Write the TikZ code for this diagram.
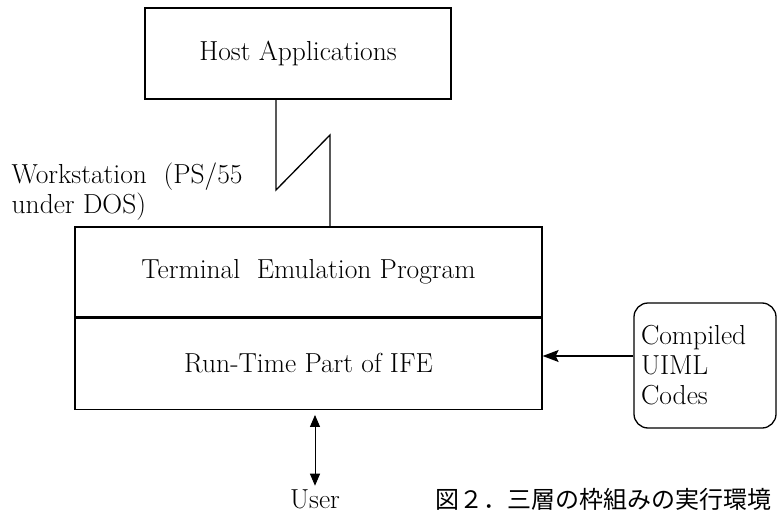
\documentclass[tikz,border=0pt]{standalone}
\usepackage{fontspec}
\newfontfamily\cjk{Noto Sans CJK JP}
\usetikzlibrary{arrows.meta,positioning}

\begin{document}
\begin{tikzpicture}[x=1pt,y=-1pt,line width=1.3pt,
  box/.style={draw,inner sep=0pt,font=\fontsize{27.5}{30}\selectfont},
  label/.style={inner sep=0pt,font=\fontsize{27.5}{30}\selectfont},
  tip/.style={-{Stealth[length=16pt,width=12pt,inset=3pt]}}]

  \useasboundingbox (0,0) rectangle (777,514);

  \def\boxw{467}

  % host side
  \node[box,minimum width=306pt,minimum height=91pt] (host) at (298,53.5) {\raisebox{5pt}{Host Applications}};

  % workstation side, two layers
  \node[box,minimum width=\boxw pt,minimum height=90pt] (term) at (308.5,272) {\raisebox{5pt}{Terminal\ \ Emulation Program}};
  \node[box,minimum width=\boxw pt,minimum height=91pt,below=0pt of term] (run) {\raisebox{2pt}{Run-Time Part of IFE}};

  \node[box,rounded corners=14pt,minimum width=142pt,minimum height=125pt,
        text width=128pt,align=left] (codes) at (705,365.5) {Compiled\\UIML\\Codes};

  % line from host to workstation
  \coordinate (zl) at (276,190);
  \coordinate (zr) at (330,135);
  \draw (host.south -| zl) -- (zl) -- (zr) -- (zr |- term.north);

  \node[label,anchor=west,align=left] (ws) at (11,192) {Workstation\ \ (PS/55\\under DOS)};

  \draw[tip] ([yshift=9.5pt]codes.west) -- ([yshift=9.5pt]codes.west -| run.east);

  % user
  \node[label] (user) at (315,499) {User};
  \draw[line width=1pt,{Triangle[length=12pt,width=10pt]}-{Triangle[length=12pt,width=10pt]}]
    ([yshift=-5pt]run.south -| user) -- ([yshift=3pt]user.north);

  \node[inner sep=0pt,font=\cjk\fontsize{24}{30}\selectfont] (cap) at (603.5,499) {図２．三層の枠組みの実行環境};

\end{tikzpicture}
\end{document}
